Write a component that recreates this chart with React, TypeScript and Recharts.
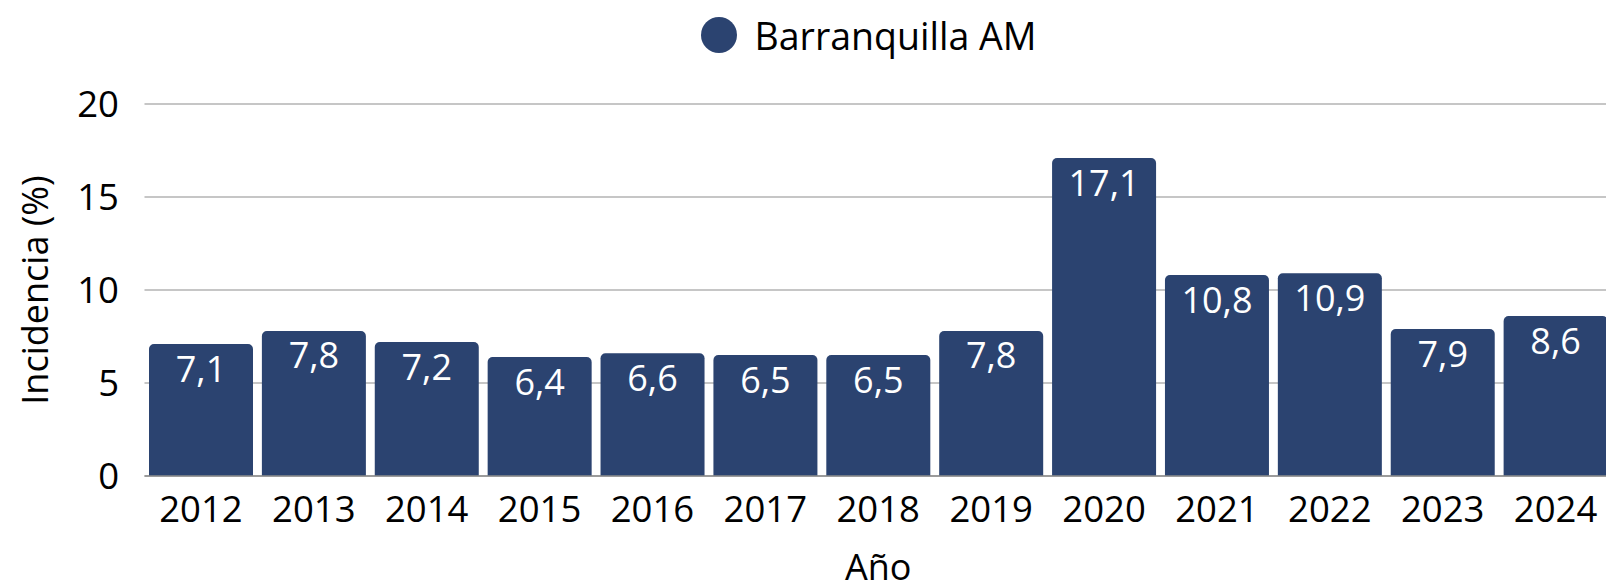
import { BarChart, Bar, XAxis, YAxis, CartesianGrid, Legend, LabelList } from "recharts"

const YEARS = ["2012", "2013", "2014", "2015", "2016", "2017", "2018", "2019", "2020", "2021", "2022", "2023", "2024"]
const INCIDENCE = [7.1, 7.8, 7.2, 6.4, 6.6, 6.5, 6.5, 7.8, 17.1, 10.8, 10.9, 7.9, 8.6]
const Y_TICKS = [0, 5, 10, 15, 20]
const SERIES_NAME = "Barranquilla AM"

const BAR_COLOR = "#2b4370"
const FONT = "'Open Sans', sans-serif"

const data = YEARS.map((year, i) => ({ year, value: INCIDENCE[i] }))

function fmtComma(v: number) {
  return v.toFixed(1).replace(".", ",")
}

function LegendContent() {
  return (
    <div style={{ height: 104, fontFamily: FONT }}>
      <div
        style={{
          height: 70,
          display: "flex",
          alignItems: "center",
          justifyContent: "center",
        }}
      >
        <span
          style={{
            width: 36,
            height: 36,
            borderRadius: "50%",
            background: BAR_COLOR,
            marginRight: 18,
            display: "inline-block",
          }}
        />
        <span style={{ fontSize: 37.5, color: "#000" }}>{SERIES_NAME}</span>
      </div>
    </div>
  )
}

export default function App() {
  return (
    <div
      style={{
        position: "absolute",
        left: 0,
        top: 0,
        width: 1606,
        height: 584,
        overflow: "hidden",
        background: "#fff",
      }}
    >
      <BarChart
        width={1612}
        height={584}
        data={data}
        margin={{ top: 0, right: 0, left: 0, bottom: 0 }}
        barCategoryGap={4.5}
        style={{ fontFamily: FONT }}
      >
        <Legend
          verticalAlign="top"
          align="center"
          content={<LegendContent />}
          wrapperStyle={{ top: 0, left: 125, width: 1487 }}
        />
        <CartesianGrid vertical={false} stroke="#c6c6c6" strokeWidth={2} />
        <XAxis
          dataKey="year"
          height={108}
          tickSize={0}
          tickMargin={20}
          tick={{ fontSize: 36.5, fill: "#000" }}
          axisLine={{ stroke: "#8c8c8c", strokeWidth: 1.5 }}
          tickLine={false}
          interval={0}
          label={({ viewBox }: any) => (
            <text
              x={viewBox.x + viewBox.width / 2}
              y={580}
              textAnchor="middle"
              fontSize={36}
              fill="#000"
            >
              Año
            </text>
          )}
        />
        <YAxis
          width={144.5}
          domain={[0, 20]}
          ticks={Y_TICKS}
          tickSize={0}
          tickMargin={25.5}
          tick={{ fontSize: 36.5, fill: "#000" }}
          axisLine={false}
          tickLine={false}
          label={({ viewBox }: any) => {
            const cy = viewBox.y + viewBox.height / 2
            return (
              <text
                x={48}
                y={cy}
                transform={`rotate(-90, 48, ${cy})`}
                textAnchor="middle"
                fontSize={36}
                fill="#000"
              >
                Incidencia (%)
              </text>
            )
          }}
        />
        <Bar dataKey="value" name={SERIES_NAME} fill={BAR_COLOR} radius={[5, 5, 0, 0]} isAnimationActive={false}>
          <LabelList
            dataKey="value"
            position="insideTop"
            offset={12}
            fill="#fff"
            fontSize={36}
            formatter={(v: any) => fmtComma(Number(v))}
          />
        </Bar>
      </BarChart>
    </div>
  )
}
